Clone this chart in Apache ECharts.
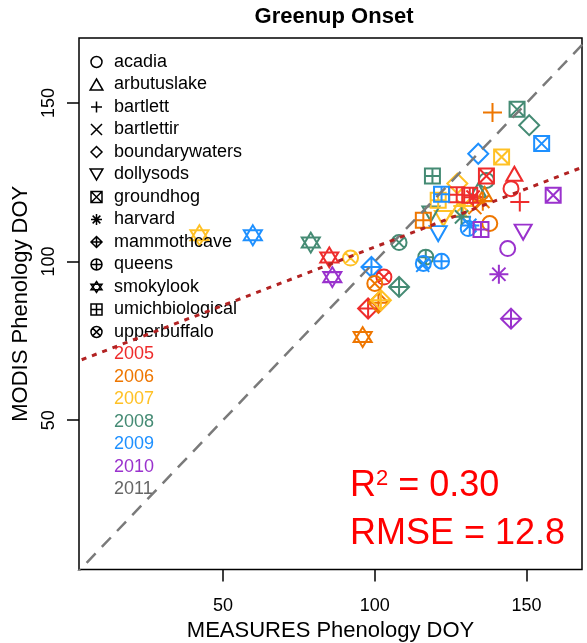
<!DOCTYPE html>
<html>
<head>
<meta charset="utf-8">
<script src="https://cdn.jsdelivr.net/npm/echarts@6/dist/echarts.min.js"></script>
<style>
  html, body { margin: 0; padding: 0; background: #fff; }
  #chart { width: 587px; height: 643px; }
</style>
</head>
<body>
<div id="chart"></div>
<script>
var font = "'Liberation Sans', Arial, sans-serif";

var years = ['2005', '2006', '2007', '2008', '2009', '2010', '2011'];
var yearColors = ['#EE2C2C', '#EE7600', '#FFC125', '#458B74', '#1E90FF', '#9A32CD', '#666666'];

// [MEASURES DOY, MODIS DOY, year]
var acadia = [[144.9, 123.0, 2005], [137.9, 112.0, 2006], [136.8, 125.6, 2008], [130.8, 110.4, 2009], [143.8, 104.1, 2010]];
var arbutuslake = [[146.0, 127.7, 2005], [136.2, 121.3, 2006], [127.5, 116.5, 2007], [134.1, 122.5, 2008]];
var bartlett = [[147.8, 118.8, 2005], [138.8, 147.0, 2006]];
var bartlettir = [[133.0, 117.0, 2006], [115.8, 98.8, 2009]];
var boundarywaters = [[127.2, 124.6, 2007], [150.9, 143.0, 2008], [134.1, 134.0, 2009]];
var dollysods = [[122.6, 113.6, 2007], [118.5, 115.0, 2008], [120.9, 108.8, 2009], [148.9, 109.3, 2010]];
var groundhog = [[136.8, 127.0, 2005], [141.8, 133.0, 2007], [146.9, 148.0, 2008], [155.0, 137.2, 2009], [158.8, 120.9, 2010]];
var harvard = [[132.4, 120.3, 2005], [135.6, 119.0, 2006], [129.0, 117.5, 2007], [128.6, 114.1, 2008], [131.3, 111.4, 2009], [140.9, 96.0, 2010]];
var mammothcave = [[97.8, 85.2, 2005], [101.2, 87.0, 2006], [102.0, 87.8, 2007], [108.0, 92.0, 2008], [98.9, 98.3, 2009], [144.9, 82.0, 2010]];
var queens = [[116.8, 101.4, 2008], [122.0, 100.1, 2009]];
var smokylook = [[85.0, 101.3, 2005], [96.0, 76.2, 2006], [42.2, 108.3, 2007], [78.9, 106.0, 2008], [59.8, 108.3, 2009], [86.0, 95.1, 2010]];
var umichbiological = [[127.0, 121.1, 2005], [131.3, 120.9, 2005], [116.0, 113.0, 2006], [120.9, 119.3, 2007], [119.0, 127.0, 2008], [122.0, 121.2, 2009], [135.0, 110.1, 2010]];
var upperbuffalo = [[103.0, 95.1, 2005], [100.0, 93.1, 2006], [92.0, 101.1, 2007], [108.0, 106.0, 2008], [116.0, 99.4, 2009]];

var xTicks = [50, 100, 150];
var yTicks = [50, 100, 150];

var oneToOne = [[0, 0], [180, 180]];
var fitLine = [[0, 67.8], [180, 134.0]];

var siteData = {
  acadia: acadia, arbutuslake: arbutuslake, bartlett: bartlett, bartlettir: bartlettir,
  boundarywaters: boundarywaters, dollysods: dollysods, groundhog: groundhog, harvard: harvard,
  mammothcave: mammothcave, queens: queens, smokylook: smokylook,
  umichbiological: umichbiological, upperbuffalo: upperbuffalo
};
var sites = Object.keys(siteData);

// R-like pch shapes
var circ = 'M0 10A10 10 0 1 0 20 10A10 10 0 1 0 0 10Z';
var shapes = {
  acadia: { path: circ, size: 15 },
  arbutuslake: { path: 'M10 0L20 17.3L0 17.3Z', size: [16, 14] },
  bartlett: { path: 'M10 0L10 20M0 10L20 10', size: 19 },
  bartlettir: { path: 'M0 0L20 20M20 0L0 20', size: 13 },
  boundarywaters: { path: 'M10 0L20 10L10 20L0 10Z', size: 20 },
  dollysods: { path: 'M0 0L20 0L10 17.3Z', size: [17, 15] },
  groundhog: { path: 'M0 0L20 0L20 20L0 20ZM0 0L20 20M20 0L0 20', size: 15 },
  harvard: { path: 'M10 0L10 20M0 10L20 10M3 3L17 17M17 3L3 17', size: 19 },
  mammothcave: { path: 'M10 0L20 10L10 20L0 10ZM10 0L10 20M0 10L20 10', size: 20 },
  queens: { path: circ + 'M10 0L10 20M0 10L20 10', size: 15 },
  smokylook: { path: 'M10 0L20 15L0 15ZM0 5L20 5L10 20Z', size: [18, 20] },
  umichbiological: { path: 'M0 0L20 0L20 20L0 20ZM10 0L10 20M0 10L20 10', size: 15 },
  upperbuffalo: { path: circ + 'M2.93 2.93L17.07 17.07M17.07 2.93L2.93 17.07', size: 15 }
};

function colorOf(y) {
  return yearColors[years.indexOf(String(y))];
}

var chart = echarts.init(document.getElementById('chart'));

var series = sites.map(function (s) {
  return {
    name: s,
    type: 'scatter',
    symbol: 'path://' + shapes[s].path,
    symbolSize: shapes[s].size,
    itemStyle: { color: 'transparent', borderColor: '#000', borderWidth: 2, opacity: 1 },
    emphasis: { disabled: true },
    z: 2,
    data: siteData[s].map(function (d) {
      return { value: [d[0], d[1]], itemStyle: { borderColor: colorOf(d[2]) } };
    })
  };
});

// empty series so the year labels can appear in the legend
years.forEach(function (y) {
  series.push({ name: y, type: 'scatter', data: [] });
});

series.push({
  type: 'line',
  data: oneToOne,
  symbol: 'none',
  silent: true,
  z: 3,
  lineStyle: { color: '#7a7a7a', width: 2.5, type: [13, 9] }
});
series.push({
  type: 'line',
  data: fitLine,
  symbol: 'none',
  silent: true,
  z: 4,
  lineStyle: { color: '#B22222', width: 3, type: [5, 6] }
});

var legendData = sites.map(function (s) {
  return {
    name: s,
    icon: 'path://' + shapes[s].path,
    itemStyle: { color: 'transparent', borderColor: '#000', borderWidth: 1.5 }
  };
}).concat(years.map(function (y, i) {
  return {
    name: y,
    icon: 'rect',
    itemStyle: { color: 'transparent', borderWidth: 0 },
    textStyle: { color: yearColors[i] }
  };
}));

var option = {
  animation: false,
  backgroundColor: '#fff',
  textStyle: { fontFamily: font },
  title: [
    {
      text: 'Greenup Onset',
      left: 334,
      top: 6,
      textAlign: 'center',
      padding: 0,
      textStyle: { fontSize: 22, fontWeight: 'bold', color: '#000', fontFamily: font }
    },
    {
      text: '{a|R}{s|2}{a| = 0.30}',
      left: 350,
      top: 468,
      padding: 0,
      textStyle: {
        fontWeight: 'normal',
        rich: {
          a: { fontSize: 36, color: '#FF0000', fontWeight: 'normal', fontFamily: font },
          s: { fontSize: 22, color: '#FF0000', fontWeight: 'normal', fontFamily: font, verticalAlign: 'top' }
        }
      }
    },
    {
      text: 'RMSE = 12.8',
      left: 350,
      top: 516,
      padding: 0,
      textStyle: { fontSize: 36, color: '#FF0000', fontWeight: 'normal', fontFamily: font }
    }
  ],
  legend: {
    orient: 'vertical',
    left: 84,
    top: 50.75,
    itemWidth: 25,
    itemHeight: 11,
    itemGap: 0,
    padding: 0,
    selectedMode: false,
    textStyle: { fontSize: 18, lineHeight: 22.5, color: '#000', fontFamily: font },
    data: legendData
  },
  grid: {
    left: 79,
    top: 38,
    right: 5,
    bottom: 73.5,
    show: true,
    borderColor: '#000',
    borderWidth: 1.5,
    containLabel: false,
    outerBoundsMode: 'none'
  },
  xAxis: {
    type: 'value',
    min: 2.5,
    max: 168.3,
    name: 'MEASURES Phenology DOY',
    nameLocation: 'middle',
    nameGap: 47,
    nameTextStyle: { fontSize: 22, color: '#000', fontFamily: font },
    splitLine: { show: false },
    axisLine: { show: false },
    axisTick: { show: true, length: 12, customValues: xTicks, lineStyle: { color: '#000', width: 1.5 } },
    axisLabel: { customValues: xTicks, fontSize: 18, color: '#000', margin: 28, fontFamily: font }
  },
  yAxis: {
    type: 'value',
    min: 2.9,
    max: 170.5,
    name: 'MODIS Phenology DOY',
    nameLocation: 'middle',
    nameGap: 43,
    nameTextStyle: { fontSize: 22, color: '#000', fontFamily: font },
    splitLine: { show: false },
    axisLine: { show: false },
    axisTick: { show: true, length: 12, customValues: yTicks, lineStyle: { color: '#000', width: 1.5 } },
    axisLabel: { customValues: yTicks, fontSize: 18, color: '#000', margin: 21, rotate: 90, fontFamily: font }
  },
  series: series
};

option && chart.setOption(option);
</script>
</body>
</html>
